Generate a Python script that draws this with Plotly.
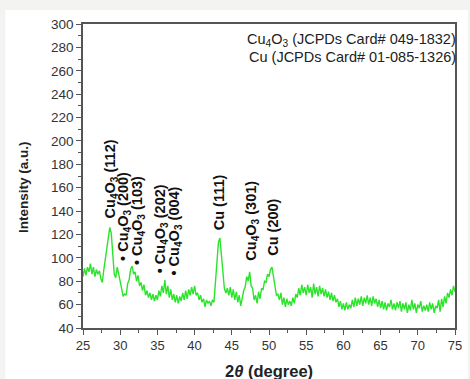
import plotly.graph_objects as go

# XRD intensity, 2theta from 25.0 to 75.0 in 0.2 degree steps
x_start = 25.0
x_step = 0.2
intensity = [
    84, 91, 85, 92, 88, 95, 86, 92, 84, 90,          # 25.0-26.8
    86, 89, 82, 79, 90, 98, 110, 117, 126, 121,      # 27.0-28.8
    104, 86, 83, 92, 86, 80, 71, 67, 69, 68,         # 29.0-30.8
    78, 81, 90, 93, 86, 88, 80, 85, 76, 79,          # 31.0-32.8
    72, 77, 68, 72, 66, 70, 64, 69, 63, 68,          # 33.0-34.8
    64, 72, 67, 76, 70, 81, 69, 76, 66, 73,          # 35.0-36.8
    64, 69, 62, 68, 61, 67, 63, 70, 64, 72,          # 37.0-38.8
    65, 73, 68, 75, 69, 76, 68, 70, 64, 68,          # 39.0-40.8
    62, 65, 58, 64, 61, 63, 59, 64, 62, 78,          # 41.0-42.8
    102, 113, 117, 104, 90, 74, 70, 74, 68, 75,      # 43.0-44.8
    66, 73, 64, 71, 62, 68, 59, 66, 72, 75,          # 45.0-46.8
    84, 80, 88, 76, 74, 64, 68, 61, 71, 65,          # 47.0-48.8
    74, 73, 80, 79, 86, 84, 90, 92, 84, 78,          # 49.0-50.8
    68, 69, 64, 70, 60, 66, 58, 65, 60, 63,          # 51.0-52.8
    59, 66, 61, 69, 66, 74, 68, 77, 70, 75,          # 53.0-54.8
    68, 77, 70, 75, 66, 78, 69, 75, 67, 76,          # 55.0-56.8
    69, 74, 67, 73, 66, 71, 64, 70, 63, 68,          # 57.0-58.8
    62, 65, 58, 63, 56, 61, 55, 62, 56, 60,          # 59.0-60.8
    57, 64, 58, 66, 59, 65, 60, 67, 59, 66,          # 61.0-62.8
    61, 68, 60, 66, 59, 67, 61, 65, 58, 64,          # 63.0-64.8
    57, 63, 56, 62, 55, 61, 58, 64, 56, 61,          # 65.0-66.8
    55, 62, 57, 63, 54, 61, 56, 62, 53, 60,          # 67.0-68.8
    55, 64, 56, 61, 53, 60, 57, 63, 54, 59,          # 69.0-70.8
    55, 60, 54, 62, 56, 61, 53, 59, 57, 64,          # 71.0-72.8
    54, 65, 58, 67, 61, 70, 66, 73, 68, 76,          # 73.0-74.8
    71,                                              # 75.0
]
two_theta = [round(x_start + x_step * i, 1) for i in range(len(intensity))]

# Peak labels: text, 2theta position, intensity at label base
peak_labels = [
    "Cu<sub>4</sub>O<sub>3</sub> (112)",
    "• Cu<sub>4</sub>O<sub>3</sub> (200)",
    "• Cu<sub>4</sub>O<sub>3</sub> (103)",
    "• Cu<sub>4</sub>O<sub>3</sub> (202)",
    "• Cu<sub>4</sub>O<sub>3</sub> (004)",
    "Cu (111)",
    "Cu<sub>4</sub>O<sub>3</sub> (301)",
    "Cu (200)",
]
peak_x = [28.7, 30.5, 32.3, 35.4, 37.4, 43.3, 47.6, 50.6]
peak_y = [132, 96, 92, 85, 83, 122, 96, 100]

legend_lines = [
    "Cu<sub>4</sub>O<sub>3</sub> (JCPDs Card# 049-1832)",
    "Cu (JCPDs Card# 01-085-1326)",
]

x_ticks = [25, 30, 35, 40, 45, 50, 55, 60, 65, 70, 75]
y_ticks = [40, 60, 80, 100, 120, 140, 160, 180, 200, 220, 240, 260, 280, 300]

W, H = 470, 379
ML, MR, MT, MB = 83, 8, 24, 51
pw, ph = W - ML - MR, H - MT - MB

def px_x(p):
    return (p - ML) / pw

def px_y(p):
    return (H - MB - p) / ph

FONT = "Liberation Sans, Arial, sans-serif"
axis_col = "#555555"

fig = go.Figure()
fig.add_trace(go.Scatter(
    x=two_theta, y=intensity, mode="lines",
    line=dict(color="#2ae42a", width=1.4),
    showlegend=False, hoverinfo="skip",
))

annotations = []
for t, xx, yy in zip(peak_labels, peak_x, peak_y):
    annotations.append(dict(
        x=xx, y=yy, xref="x", yref="y", text=t, textangle=-90,
        showarrow=False, xanchor="center", yanchor="bottom",
        font=dict(family=FONT, size=14.5, color="#111111", weight="bold"),
    ))
for i, t in enumerate(legend_lines):
    annotations.append(dict(
        x=px_x(465), y=px_y(40 + 16.5 * i), xref="paper", yref="paper", text=t,
        showarrow=False, xanchor="right", yanchor="middle",
        font=dict(family=FONT, size=14.5, color="#222222"),
    ))
annotations.append(dict(
    x=px_x(23), y=px_y(187), xref="paper", yref="paper",
    text="Intensity (a.u.)", textangle=-90, showarrow=False,
    xanchor="center", yanchor="middle",
    font=dict(family=FONT, size=13.5, color="#222222", weight="bold"),
))
annotations.append(dict(
    x=0.5, y=px_y(371), xref="paper", yref="paper",
    text="2<i>θ</i> (degree)", showarrow=False,
    xanchor="center", yanchor="middle",
    font=dict(family=FONT, size=16.5, color="#222222", weight="bold"),
))

fig.update_layout(
    width=W, height=H,
    margin=dict(l=ML, r=MR, t=MT, b=MB, pad=0),
    paper_bgcolor="#f3f3f1",
    plot_bgcolor="white",
    annotations=annotations,
    shapes=[dict(
        type="rect", xref="paper", yref="paper", layer="below",
        x0=px_x(4), x1=px_x(W + 5), y0=px_y(H + 5), y1=px_y(10),
        fillcolor="white", line=dict(width=0),
    )],
    font=dict(family=FONT, size=13, color="#333333"),
)
fig.update_xaxes(
    range=[25, 75], tickvals=x_ticks, ticks="outside", ticklen=5, tickwidth=1.2,
    tickcolor=axis_col, showline=True, linecolor=axis_col, linewidth=1.6,
    mirror=True, showgrid=False, zeroline=False,
    tickfont=dict(family=FONT, size=13, color="#333333"),
    minor=dict(dtick=2.5, tick0=25, ticks="outside", ticklen=3, tickcolor=axis_col, tickwidth=1.2),
)
fig.update_yaxes(
    range=[40, 300], tickvals=y_ticks, ticks="outside", ticklen=5, tickwidth=1.2,
    tickcolor=axis_col, showline=True, linecolor=axis_col, linewidth=1.6,
    mirror=True, showgrid=False, zeroline=False,
    tickfont=dict(family=FONT, size=13.5, color="#333333"),
    minor=dict(dtick=10, tick0=40, ticks="outside", ticklen=3, tickcolor=axis_col, tickwidth=1.2),
)

fig.write_html(
    "out.html",
    config={"displayModeBar": False},
    post_script="document.body.style.margin='0px';document.body.style.background='#f3f3f1';",
)
